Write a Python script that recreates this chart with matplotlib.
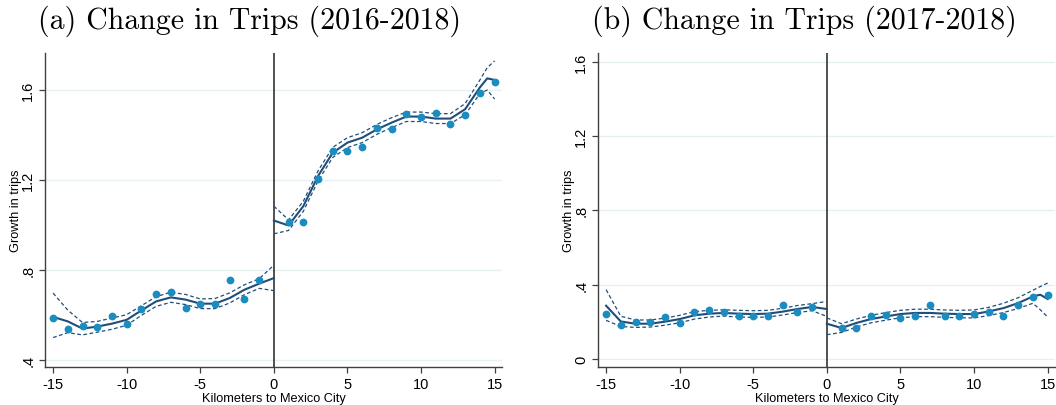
import matplotlib
matplotlib.use("Agg")
import matplotlib.pyplot as plt

# ---- data ----
km_left = [-15, -14, -13, -12, -11, -10, -9, -8, -7, -6, -5, -4, -3, -2, -1]
km_right = [1, 2, 3, 4, 5, 6, 7, 8, 9, 10, 11, 12, 13, 14, 15]

# (a) 2016-2018 binned means
a_pts_left = [0.585, 0.538, 0.550, 0.547, 0.596, 0.558, 0.625, 0.692, 0.699,
              0.628, 0.647, 0.649, 0.754, 0.668, 0.754]
a_pts_right = [1.013, 1.013, 1.202, 1.329, 1.329, 1.347, 1.433, 1.425, 1.492,
               1.480, 1.497, 1.449, 1.488, 1.586, 1.638]

# (b) 2017-2018 binned means
b_pts_left = [0.242, 0.185, 0.201, 0.201, 0.224, 0.195, 0.253, 0.265, 0.251,
              0.229, 0.233, 0.233, 0.292, 0.255, 0.280]
b_pts_right = [0.167, 0.167, 0.229, 0.238, 0.221, 0.233, 0.289, 0.233, 0.233,
               0.244, 0.255, 0.233, 0.291, 0.334, 0.342]

# polynomial fit + 95% CI, left of the border
fit_x_left = [-15, -14, -13, -12, -11, -10, -9, -8, -7, -6, -5, -4, -3, -2, -1, 0]
a_fit_left = [0.59, 0.57, 0.538, 0.547, 0.56, 0.577, 0.619, 0.659, 0.677, 0.667,
              0.649, 0.649, 0.674, 0.711, 0.738, 0.763]
a_hi_left = [0.696, 0.62, 0.565, 0.57, 0.585, 0.60, 0.64, 0.68, 0.70, 0.69,
             0.67, 0.672, 0.697, 0.733, 0.76, 0.82]
a_lo_left = [0.498, 0.52, 0.51, 0.522, 0.535, 0.553, 0.597, 0.637, 0.655, 0.645,
             0.627, 0.627, 0.652, 0.689, 0.717, 0.707]
b_fit_left = [0.287, 0.202, 0.19, 0.19, 0.201, 0.215, 0.235, 0.244, 0.248, 0.244,
              0.242, 0.244, 0.255, 0.269, 0.28, 0.269]
b_hi_left = [0.373, 0.23, 0.21, 0.21, 0.22, 0.235, 0.255, 0.262, 0.265, 0.262,
             0.26, 0.262, 0.273, 0.288, 0.298, 0.31]
b_lo_left = [0.208, 0.175, 0.17, 0.172, 0.182, 0.195, 0.215, 0.226, 0.231, 0.226,
             0.224, 0.226, 0.237, 0.25, 0.26, 0.229]

# polynomial fit + 95% CI, right of the border
fit_x_right = [0, 1, 2, 3, 4, 5, 6, 7, 8, 9, 10, 11, 12, 13, 14, 14.5, 15]
a_fit_right = [1.019, 0.997, 1.083, 1.217, 1.321, 1.366, 1.388, 1.425, 1.455, 1.482,
               1.482, 1.473, 1.473, 1.515, 1.612, 1.652, 1.645]
a_hi_right = [1.083, 1.022, 1.105, 1.24, 1.345, 1.388, 1.41, 1.447, 1.477, 1.502,
              1.502, 1.495, 1.495, 1.54, 1.645, 1.70, 1.73]
a_lo_right = [0.96, 0.975, 1.06, 1.195, 1.30, 1.344, 1.366, 1.403, 1.433, 1.46,
              1.46, 1.451, 1.451, 1.49, 1.585, 1.60, 1.56]
b_fit_right = [0.19, 0.167, 0.194, 0.215, 0.229, 0.242, 0.248, 0.248, 0.244, 0.242,
               0.242, 0.256, 0.274, 0.301, 0.337, 0.346, 0.323]
b_hi_right = [0.221, 0.19, 0.215, 0.235, 0.25, 0.262, 0.268, 0.268, 0.264, 0.262,
              0.264, 0.278, 0.30, 0.33, 0.37, 0.39, 0.409]
b_lo_right = [0.131, 0.143, 0.172, 0.195, 0.209, 0.222, 0.228, 0.228, 0.224, 0.222,
              0.221, 0.234, 0.25, 0.272, 0.30, 0.265, 0.226]

x_ticks = [-15, -10, -5, 0, 5, 10, 15]
a_yticks = [0.4, 0.8, 1.2, 1.6]
a_ylabels = [".4", ".8", "1.2", "1.6"]
b_yticks = [0, 0.4, 0.8, 1.2, 1.6]
b_ylabels = ["0", ".4", ".8", "1.2", "1.6"]

titles = ["(a) Change in Trips (2016-2018)", "(b) Change in Trips (2017-2018)"]

DOT = "#1a8cc0"
NAVY = "#1f4e79"
GRID = "#e6eff1"
SPINE = "#404040"
SANS = ["Liberation Sans", "DejaVu Sans"]

fig = plt.figure(figsize=(10.56, 4.06), dpi=100)
ax_a = fig.add_axes([45 / 1056, 1 - 368 / 406, 457 / 1056, 314 / 406])
ax_b = fig.add_axes([598 / 1056, 1 - 368 / 406, 457 / 1056, 314 / 406])


def draw(ax, pl, pr, fl, hl, ll, fr, hr, lr, yt, ylab, ylim):
    ax.set_xlim(-15.55, 15.5)
    ax.set_ylim(*ylim)
    for y in yt:
        ax.axhline(y, color=GRID, lw=1.0, zorder=0)
    ax.axvline(0, color="#222222", lw=1.1, zorder=1)
    for xs, f, h, l in [(fit_x_left, fl, hl, ll), (fit_x_right, fr, hr, lr)]:
        ax.plot(xs, f, color=NAVY, lw=1.5, zorder=3)
        ax.plot(xs, h, color=NAVY, lw=0.9, ls=(0, (3, 2)), zorder=3)
        ax.plot(xs, l, color=NAVY, lw=0.9, ls=(0, (3, 2)), zorder=3)
    ax.plot(km_left, pl, "o", color=DOT, ms=5.6, mec="none", zorder=4)
    ax.plot(km_right, pr, "o", color=DOT, ms=5.6, mec="none", zorder=4)

    ax.spines["top"].set_visible(False)
    ax.spines["right"].set_visible(False)
    for s in ["left", "bottom"]:
        ax.spines[s].set_color(SPINE)
        ax.spines[s].set_linewidth(1.0)
    ax.set_xticks(x_ticks)
    ax.set_xticklabels([str(v) for v in x_ticks], family=SANS, fontsize=10.5)
    ax.set_yticks(yt)
    ax.set_yticklabels(ylab, family=SANS, fontsize=10.5, rotation=90, va="center")
    ax.tick_params(length=4, width=0.9, color=SPINE, pad=3)
    ax.set_xlabel("Kilometers to Mexico City", family=SANS, fontsize=9.2, labelpad=1)
    ax.set_ylabel("Growth in trips", family=SANS, fontsize=9.2)
    ax.yaxis.set_label_coords(-0.051, 0.5)


draw(ax_a, a_pts_left, a_pts_right, a_fit_left, a_hi_left, a_lo_left,
     a_fit_right, a_hi_right, a_lo_right, a_yticks, a_ylabels, (0.367, 1.765))
draw(ax_b, b_pts_left, b_pts_right, b_fit_left, b_hi_left, b_lo_left,
     b_fit_right, b_hi_right, b_lo_right, b_yticks, b_ylabels, (-0.043, 1.647))

fig.text(250 / 1056, 1 - 21 / 406, titles[0], family=["cmr10", "DejaVu Serif"],
         fontsize=21.5, ha="center", va="center")
fig.text(804 / 1056, 1 - 21 / 406, titles[1], family=["cmr10", "DejaVu Serif"],
         fontsize=21.5, ha="center", va="center")

fig.savefig("out.png", dpi=100)
